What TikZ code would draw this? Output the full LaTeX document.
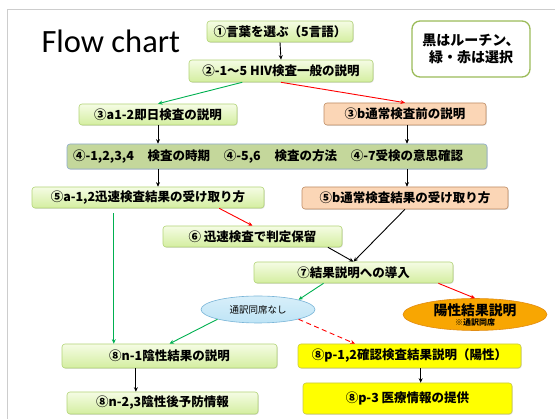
\documentclass[tikz,border=0pt]{standalone}
\usepackage{fontspec}
\setmainfont{Carlito}
\newfontfamily\jp{Noto Sans CJK JP}
\usetikzlibrary{calc,shapes.geometric,shadows,arrows.meta}
\definecolor{gline}{RGB}{0,176,80}
\definecolor{rline}{RGB}{255,0,0}
\definecolor{gtop}{RGB}{245,252,228}
\definecolor{gbot}{RGB}{212,238,160}
\definecolor{gbord}{RGB}{178,212,118}
\definecolor{pfill}{RGB}{251,214,182}
\definecolor{pbord}{RGB}{190,140,100}
\definecolor{ofill}{RGB}{196,215,155}
\definecolor{obord}{RGB}{140,170,205}
\definecolor{yfill}{RGB}{255,255,0}
\definecolor{ybord}{RGB}{200,200,70}
\definecolor{bfill}{RGB}{190,228,246}
\definecolor{bbord}{RGB}{120,180,215}
\definecolor{orfill}{RGB}{248,166,2}
\definecolor{orbord}{RGB}{225,140,20}
\definecolor{legb}{RGB}{155,187,89}
\definecolor{frame}{RGB}{205,205,205}
\tikzset{
  box/.style={draw, rounded corners=3pt, line width=0.6pt, inner sep=0pt,
    font=\jp\bfseries\fontsize{12.5}{14}\selectfont, anchor=center,
    drop shadow={shadow xshift=0.8pt, shadow yshift=-0.8pt, opacity=0.25}},
  gbox/.style={box, draw=gbord, top color=gtop, bottom color=gbot},
  pbox/.style={box, draw=pbord, fill=pfill},
  obox/.style={box, draw=obord, fill=ofill},
  ybox/.style={box, draw=ybord, fill=yfill},
  arr/.style={line width=0.9pt, -{Stealth[length=4.5pt,width=4pt]}},
  blk/.style={arr, draw=black},
  grn/.style={arr, draw=gline},
  red/.style={arr, draw=rline},
}
\begin{document}
\begin{tikzpicture}[x=1pt,y=-1pt]
\useasboundingbox (0,0) rectangle (555,419);
\draw[frame, line width=0.8pt] (7,425) -- (7,9) -- (560,9);
\node[font=\fontsize{32.5}{36}\selectfont, anchor=base west] (title) at (38,53) {Flow chart};
\node[draw=legb, fill=white, line width=1.3pt, rounded corners=8pt, minimum width=118pt, minimum height=56pt,
  inner sep=0pt, align=center, font=\jp\bfseries\fontsize{14}{17.5}\selectfont] (leg) at (471,49) {黒はルーチン、\\緑・赤は選択};
\node[gbox, minimum width=146pt, minimum height=21pt] (n1) at (280,31.5) {①言葉を選ぶ（5言語）};
\node[gbox, minimum width=184pt, minimum height=22pt] (n2) at (281,71) {②-1〜5 HIV検査一般の説明};
\node[gbox, minimum width=158pt, minimum height=21pt] (n3a) at (158,114.5) {③a1-2即日検査の説明};
\node[pbox, minimum width=162pt, minimum height=22pt] (n3b) at (405,114) {③b通常検査前の説明};
\node[obox, minimum width=420pt, minimum height=25pt, text width=408pt, inner xsep=6pt, align=left] (n4) at (277,156.5)
  {④-1,2,3,4\hspace{1.1em}検査の時期\hspace{1.1em}④-5,6\hspace{1.1em}検査の方法\hspace{1.1em}④-7受検の意思確認};
\node[gbox, minimum width=232pt, minimum height=21pt] (n5a) at (148,197.5) {⑤a-1,2迅速検査結果の受け取り方};
\node[pbox, minimum width=206pt, minimum height=22pt] (n5b) at (405,198) {⑤b通常検査結果の受け取り方};
\node[gbox, minimum width=179pt, minimum height=21pt] (n6) at (252.5,236.5) {⑥ 迅速検査で判定保留};
\node[gbox, minimum width=199pt, minimum height=21pt] (n7) at (353.5,272.5) {⑦結果説明への導入};
\node[ellipse, draw=bbord, line width=0.6pt, top color=bfill!60, bottom color=bfill, minimum width=114pt, minimum height=27pt,
  inner sep=0pt, font=\jp\fontsize{9.5}{11}\selectfont] (e1) at (258,309.5) {通訳同席なし};
\node[ellipse, draw=orbord, line width=0.6pt, fill=orfill, minimum width=144pt, minimum height=27pt,
  inner sep=0pt, align=center] (e2) at (475,314.5)
  {{\jp\bfseries\fontsize{13.8}{14}\selectfont 陽性結果説明}\\[-2pt]{\jp\bfseries\fontsize{8}{9}\selectfont ※通訳同席}};
\node[gbox, minimum width=215pt, minimum height=24pt] (n8n1) at (169.5,356) {⑧n-1陰性結果の説明};
\node[gbox, minimum width=191pt, minimum height=22pt] (n8n23) at (162.5,403) {⑧n-2,3陰性後予防情報};
\node[ybox, minimum width=223pt, minimum height=24pt] (n8p12) at (409.5,356) {⑧p-1,2確認検査結果説明（陽性）};
\node[ybox, minimum width=209pt, minimum height=31pt] (n8p3) at (407.5,398.5) {⑧p-3 医療情報の提供};
% helper points on edges
\coordinate (c2g) at ($(n2.south west)!0.29!(n2.south east)$);
\coordinate (c5ar) at ($(n5a.south west)!0.806!(n5a.south east)$);
\coordinate (c5ag) at ($(n5a.south west)!0.353!(n5a.south east)$);
\coordinate (c6) at ($(n6.south west)!0.92!(n6.south east)$);
\coordinate (c7g) at ($(n7.south west)!0.35!(n7.south east)$);
\coordinate (c7r) at ($(n7.south west)!0.925!(n7.south east)$);
\coordinate (cp12) at ($(n8p12.north west)!0.256!(n8p12.north east)$);
\coordinate (cn1) at ($(n8n1.south west)!0.344!(n8n1.south east)$);
\coordinate (cp1) at ($(n8p12.south west)!0.55!(n8p12.south east)$);
\coordinate (c3b) at ($(n3b.south)+(2,0)$);
% connectors
\draw[blk] (n1.south) -- (n2.north);
\draw[grn] (c2g) -- (n3a.north);
\draw[red] (n2.south) -- (n3b.north);
\draw[blk] (n3a.south) -- (n3a.south |- n4.north);
\draw[blk] (c3b) -- (c3b |- n4.north);
\draw[blk] (n3a.south |- n4.south) -- (n3a.south |- n5a.north);
\draw[blk] (c3b |- n4.south) -- (c3b |- n5b.north);
\draw[red] (c5ar) -- (n6.north);
\draw[grn, shorten <=5pt] (c5ag) -- (c5ag |- n8n1.north);
\draw[blk] (n5b.south) -- (n7.north);
\draw[blk] (c6) -- (n7.north);
\draw[grn] (c7g) -- (e1.north east);
\draw[red] (c7r) -- (e2.north);
\draw[grn] (e1.south west) -- (n8n1.north);
\draw[red, dashed, dash pattern=on 5pt off 3.5pt] (e1.south east) -- (cp12);
\draw[blk] (cn1) -- (cn1 |- n8n23.north);
\draw[blk] (cp1) -- (cp1 |- n8p3.north);
\end{tikzpicture}
\end{document}
